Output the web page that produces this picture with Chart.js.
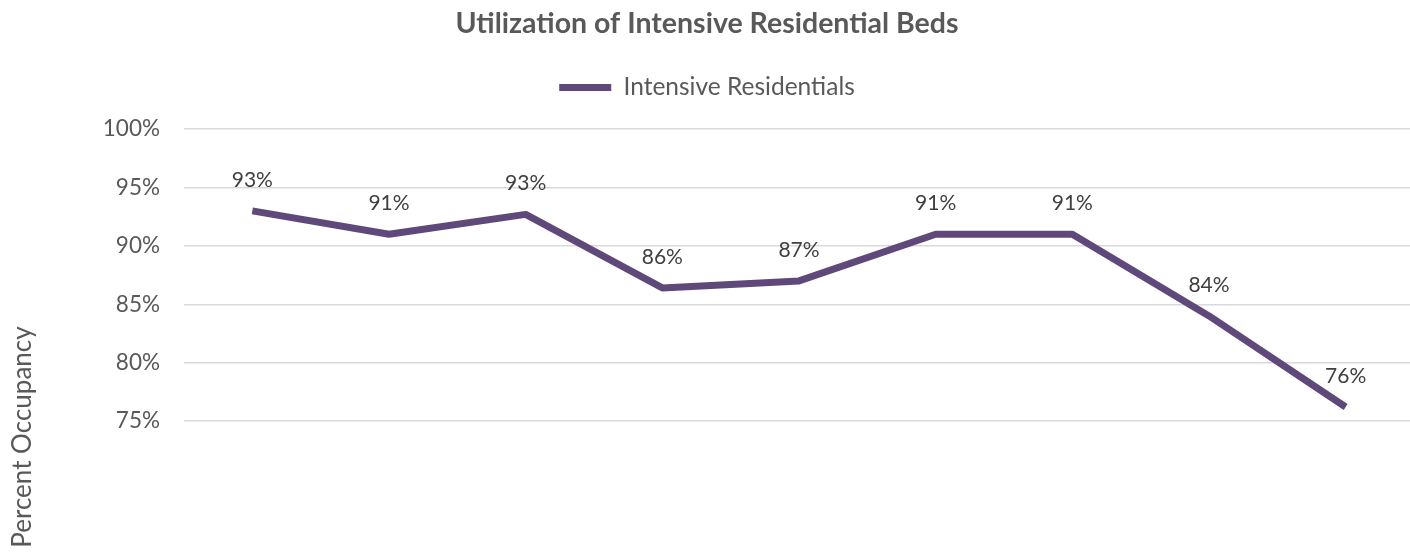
<!DOCTYPE html>
<html>
<head>
<meta charset="utf-8">
<title>Utilization of Intensive Residential Beds</title>
<script src="https://cdn.jsdelivr.net/npm/chart.js@4/dist/chart.umd.min.js"></script>
<style>
  html, body { margin: 0; padding: 0; background: #ffffff; overflow: hidden; }
  #wrap { width: 1414px; height: 552px; }
</style>
</head>
<body>
<div id="wrap"><canvas id="chart" width="1414" height="552"></canvas></div>
<script>
// Reporting periods (axis labels sit below the visible area)
const categories = ['P1', 'P2', 'P3', 'P4', 'P5', 'P6', 'P7', 'P8', 'P9'];
// Bed occupancy, percent
const occupancy = [93.0, 91.0, 92.7, 86.4, 87.0, 91.0, 91.0, 84.0, 76.2];
// Value axis ticks, percent
const yTicks = [75, 80, 85, 90, 95, 100];

const seriesName = 'Intensive Residentials';
const chartTitle = 'Utilization of Intensive Residential Beds';
const yAxisTitle = 'Percent Occupancy';

const FONT = "Lato, 'Open Sans', sans-serif";
const GREY = '#595959';
const LINE = '#5F497A';

// Writes each point's value just above it
const pointLabels = {
  id: 'pointLabels',
  afterDatasetsDraw(chart) {
    const ctx = chart.ctx;
    ctx.save();
    ctx.font = '21px ' + FONT;
    ctx.fillStyle = '#404040';
    ctx.textAlign = 'center';
    ctx.textBaseline = 'middle';
    chart.data.datasets.forEach((ds, di) => {
      chart.getDatasetMeta(di).data.forEach((pt, i) => {
        ctx.fillText(Math.round(ds.data[i]) + '%', pt.x, pt.y - 31);
      });
    });
    ctx.restore();
  }
};

// Rotated title for the value axis
const valueAxisTitle = {
  id: 'valueAxisTitle',
  afterDraw(chart) {
    const ctx = chart.ctx;
    ctx.save();
    ctx.translate(23, 437);
    ctx.rotate(-Math.PI / 2);
    ctx.font = '26px ' + FONT;
    ctx.fillStyle = GREY;
    ctx.textAlign = 'center';
    ctx.textBaseline = 'middle';
    ctx.fillText(yAxisTitle, 0, 0);
    ctx.restore();
  }
};

new Chart(document.getElementById('chart'), {
  type: 'line',
  data: {
    labels: categories,
    datasets: [{
      label: seriesName,
      data: occupancy,
      borderColor: LINE,
      backgroundColor: LINE,
      borderWidth: 7,
      borderJoinStyle: 'round',
      borderCapStyle: 'butt',
      pointRadius: 0,
      pointHoverRadius: 0,
      tension: 0,
      fill: false
    }]
  },
  options: {
    responsive: false,
    devicePixelRatio: 1,
    animation: false,
    events: [],
    layout: { padding: { left: 0, right: 0, top: 0, bottom: 131 } },
    plugins: {
      title: {
        display: true,
        text: chartTitle,
        color: GREY,
        font: { family: FONT, size: 28.5, weight: 'bold', lineHeight: 1.2 },
        padding: { top: 7, bottom: 24 }
      },
      legend: {
        display: true,
        position: 'top',
        labels: {
          color: GREY,
          font: { family: FONT, size: 24.5 },
          boxWidth: 52,
          boxHeight: 7,
          padding: 10,
          generateLabels(chart) {
            const items = Chart.defaults.plugins.legend.labels.generateLabels(chart);
            items.forEach(it => { it.lineWidth = 0; it.fillStyle = LINE; });
            return items;
          }
        }
      },
      tooltip: { enabled: false }
    },
    scales: {
      x: {
        type: 'category',
        display: false,
        offset: true
      },
      gap: {
        type: 'category',
        position: 'top',
        display: true,
        grid: { display: false },
        border: { display: false },
        ticks: { display: false },
        afterFit(scale) { scale.height = 19.5; }
      },
      y: {
        min: 75,
        max: 100,
        position: 'left',
        afterFit(scale) { scale.width = 184; },
        afterBuildTicks(scale) { scale.ticks = yTicks.map(v => ({ value: v })); },
        grid: { color: '#D9D9D9', lineWidth: 1.5, drawTicks: false },
        border: { display: false },
        ticks: {
          color: GREY,
          font: { family: FONT, size: 22.5 },
          padding: 24,
          callback: v => v + '%'
        }
      }
    }
  },
  plugins: [pointLabels, valueAxisTitle]
});
</script>
</body>
</html>
